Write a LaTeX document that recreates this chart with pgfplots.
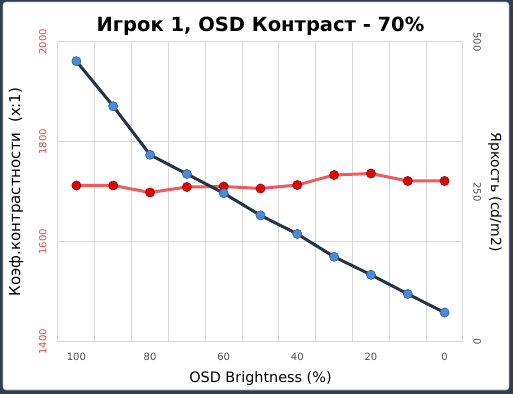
\documentclass[border=0pt]{standalone}
\usepackage{pgfplots}
\pgfplotsset{compat=1.18}
\usepackage{fontspec}
\setmainfont{DejaVu Sans}
\definecolor{framec}{HTML}{2D3E50}
\definecolor{gridc}{HTML}{D9D9D9}
\definecolor{redtick}{HTML}{E8474A}
\definecolor{redline}{HTML}{F05A5A}
\definecolor{darkline}{HTML}{243646}
\definecolor{ballblue}{HTML}{4A8AD8}
\definecolor{ballred}{HTML}{D80808}
\definecolor{tickgray}{HTML}{505050}
\begin{document}
\begin{tikzpicture}
\begin{axis}[name=main, scale only axis, width=405bp, height=300bp,
  /pgf/number format/assume math mode=true,
  x dir=reverse, xmin=-5, xmax=105, xtick={0,20,...,100},
  minor xtick={5,15,...,95}, xminorgrids, ymajorgrids, xmajorgrids=false,
  ymin=1400, ymax=2000, ytick={1400,1600,1800,2000},
  axis line style={gridc, line width=1bp},
  grid style={gridc, line width=1bp}, minor grid style={gridc, line width=1bp},
  major tick length=0pt, minor tick length=0pt,
  ticklabel style={font=\fontsize{10bp}{12bp}\selectfont},
  xticklabel style={tickgray},
  xticklabel shift=8bp,
  yticklabel style={redtick, rotate=90, anchor=south},
  yticklabel shift=8bp,
  /pgf/number format/1000 sep={},
  every axis y label/.style={at={([xshift=-42bp]axis description cs:0,0.5)}, anchor=center, rotate=90, font=\fontsize{15bp}{17bp}\selectfont},
  ylabel={Коэф.контрастности\ \ (x:1)},
  every axis x label/.style={at={([yshift=-37bp]axis description cs:0.5,0)}, anchor=center, font=\fontsize{14.4bp}{16bp}\selectfont},
  xlabel={OSD Brightness (\%)},
  every axis title/.style={at={([yshift=16bp]axis description cs:0.5,1)}, anchor=center, font=\bfseries\fontsize{19.5bp}{22bp}\selectfont},
  title={Игрок 1, OSD Контраст - 70\%},
]
\addplot[redline, line width=3bp, mark=*, mark size=4.6bp, mark options={fill=ballred, draw=ballred!75!black, line width=0.6bp}]
coordinates {(100,1713) (90,1713) (80,1699) (70,1710) (60,1711) (50,1707) (40,1714) (30,1734) (20,1737) (10,1722) (0,1722)};
\end{axis}
\begin{axis}[scale only axis, width=405bp, height=300bp,
  /pgf/number format/assume math mode=true,
  x dir=reverse, xmin=-5, xmax=105,
  axis x line=none, axis y line*=right,
  axis line style={draw=none},
  ymin=0, ymax=500, ytick={0,250,500},
  major tick length=0pt,
  ticklabel style={font=\fontsize{10bp}{12bp}\selectfont},
  yticklabel style={tickgray, rotate=-90, anchor=south},
  yticklabel shift=7bp,
  every axis y label/.style={at={([xshift=32bp]axis description cs:1,0.5)}, anchor=center, rotate=-90, font=\fontsize{14bp}{16bp}\selectfont},
  ylabel={Яркость (cd/m2)},
]
\addplot[darkline, line width=3bp, mark=*, mark size=4.6bp, mark options={fill=ballblue, draw=ballblue!70!black, line width=0.6bp}]
coordinates {(100,468) (90,393) (80,312) (70,280) (60,248) (50,211) (40,180) (30,142) (20,112) (10,80) (0,49)};
\end{axis}
\fill[framec, even odd rule] ([shift={(-58bp,-52bp)}]main.south west) rectangle ([shift={(50bp,42bp)}]main.north east)
  [rounded corners=3bp] ([shift={(-55bp,-48bp)}]main.south west) rectangle ([shift={(46bp,40bp)}]main.north east);
\draw[gridc!70!gray, line width=0.6bp, rounded corners=3bp] ([shift={(-55bp,-48bp)}]main.south west) rectangle ([shift={(46bp,40bp)}]main.north east);
\end{tikzpicture}
\end{document}
